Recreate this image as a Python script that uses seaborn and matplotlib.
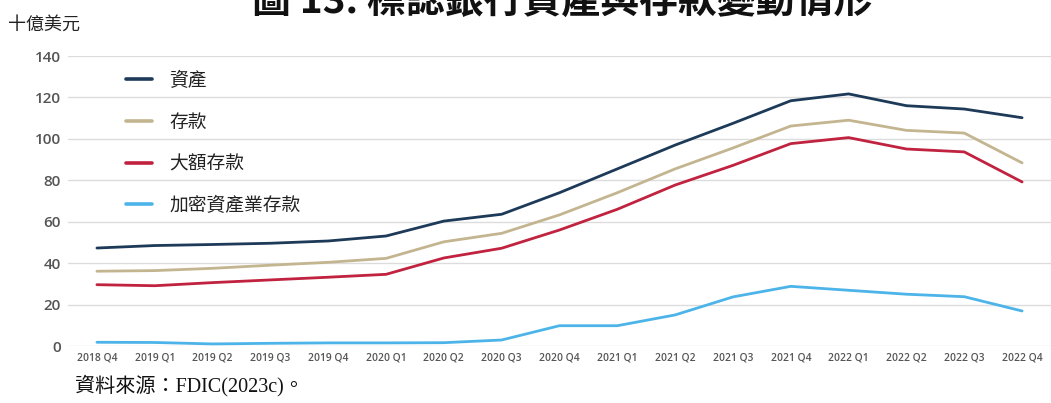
import numpy as np
import pandas as pd
import matplotlib
matplotlib.use("Agg")
import matplotlib.pyplot as plt
import seaborn as sns

# Quarterly balances, billions of USD
quarters = ["2018 Q4", "2019 Q1", "2019 Q2", "2019 Q3", "2019 Q4",
            "2020 Q1", "2020 Q2", "2020 Q3", "2020 Q4",
            "2021 Q1", "2021 Q2", "2021 Q3", "2021 Q4",
            "2022 Q1", "2022 Q2", "2022 Q3", "2022 Q4"]
assets = [47.3, 48.5, 49.0, 49.6, 50.7, 53.1, 60.3, 63.6, 74.0,
          85.5, 97.0, 107.5, 118.4, 121.7, 116.0, 114.4, 110.2]
deposits = [36.1, 36.4, 37.5, 39.0, 40.4, 42.3, 50.3, 54.4, 63.3,
            74.0, 85.5, 95.6, 106.2, 109.0, 104.1, 102.8, 88.4]
large_deposits = [29.6, 29.1, 30.6, 31.9, 33.2, 34.6, 42.5, 47.2, 56.0,
                  66.0, 77.7, 87.2, 97.7, 100.6, 95.1, 93.7, 79.2]
crypto_deposits = [1.8, 1.7, 1.0, 1.3, 1.5, 1.5, 1.6, 2.9, 9.8,
                   9.8, 15.0, 23.7, 28.8, 26.9, 25.0, 23.8, 16.9]

series_names = ["資產", "存款", "大額存款", "加密資產業存款"]
series_colors = ["#1d3a58", "#c3b58f", "#c0223f", "#4cb4e8"]

df = pd.DataFrame({
    "pos": np.arange(len(quarters)),
    series_names[0]: assets,
    series_names[1]: deposits,
    series_names[2]: large_deposits,
    series_names[3]: crypto_deposits,
})
long_df = df.melt(id_vars="pos", var_name="series", value_name="value")

sns.set_theme(style="white")
plt.rcParams["font.family"] = ["Noto Sans CJK TC", "DejaVu Sans"]

fig = plt.figure(figsize=(10.51, 4.03), dpi=100)
ax = fig.add_axes([68 / 1051, 1 - 346 / 403, 1 - 68 / 1051, 290 / 403])

sns.lineplot(data=long_df, x="pos", y="value", hue="series",
             hue_order=series_names, palette=series_colors,
             linewidth=2.0, ax=ax, legend=True)
for ln in ax.lines:
    ln.set_clip_on(False)
    ln.set_solid_joinstyle("round")

ax.set_xlim(-0.5, len(quarters) - 0.5)
ax.set_ylim(0, 140)
ax.set_yticks(np.arange(0, 141, 20))
ax.set_xticks(np.arange(len(quarters)))
ax.set_xticklabels(quarters)
ax.set_xlabel("")
ax.set_ylabel("")
ax.grid(axis="y", color="#dcdcdc", linewidth=1.0)
ax.grid(axis="x", visible=False)
for s in ax.spines.values():
    s.set_visible(False)

ax.tick_params(axis="y", length=0, pad=5, labelsize=11, labelcolor="#555555")
ax.tick_params(axis="x", length=0, pad=5, labelsize=7.4, labelcolor="#555555")
for t in ax.get_yticklabels():
    t.set_fontfamily("Open Sans")
    t.set_fontweight("semibold")
for t in ax.get_xticklabels():
    t.set_fontfamily("Open Sans")
    t.set_fontweight("semibold")

handles, labels = ax.get_legend_handles_labels()
for h in handles:
    h.set_linewidth(2.6)
leg = ax.legend(handles, labels, loc="upper left", frameon=False,
                bbox_to_anchor=(126 / 1051, 1 - 70 / 403),
                bbox_transform=fig.transFigure,
                fontsize=13.5, labelspacing=1.1, handlelength=1.4,
                handletextpad=0.9, borderpad=0, borderaxespad=0)
for t in leg.get_texts():
    t.set_color("#222222")

# Chart title (runs past the top edge of the canvas)
fig.text(0.535, 1 - 13 / 403, "圖 13. 標誌銀行資產與存款變動情形",
         ha="center", va="baseline", fontsize=28, fontweight="bold",
         color="#111111", family=["Noto Sans CJK TC", "DejaVu Sans"])

# Unit label
fig.text(8 / 1051, 1 - 25 / 403, "十億美元", ha="left", va="center",
         fontsize=13, color="#222222")

# Source note
fig.text(75 / 1051, 1 - 386 / 403, "資料來源：FDIC(2023c)。", ha="left",
         va="center", fontsize=14.5, color="#111111",
         family=["Liberation Serif", "Noto Sans CJK TC"])

fig.savefig("out.png", dpi=100)
